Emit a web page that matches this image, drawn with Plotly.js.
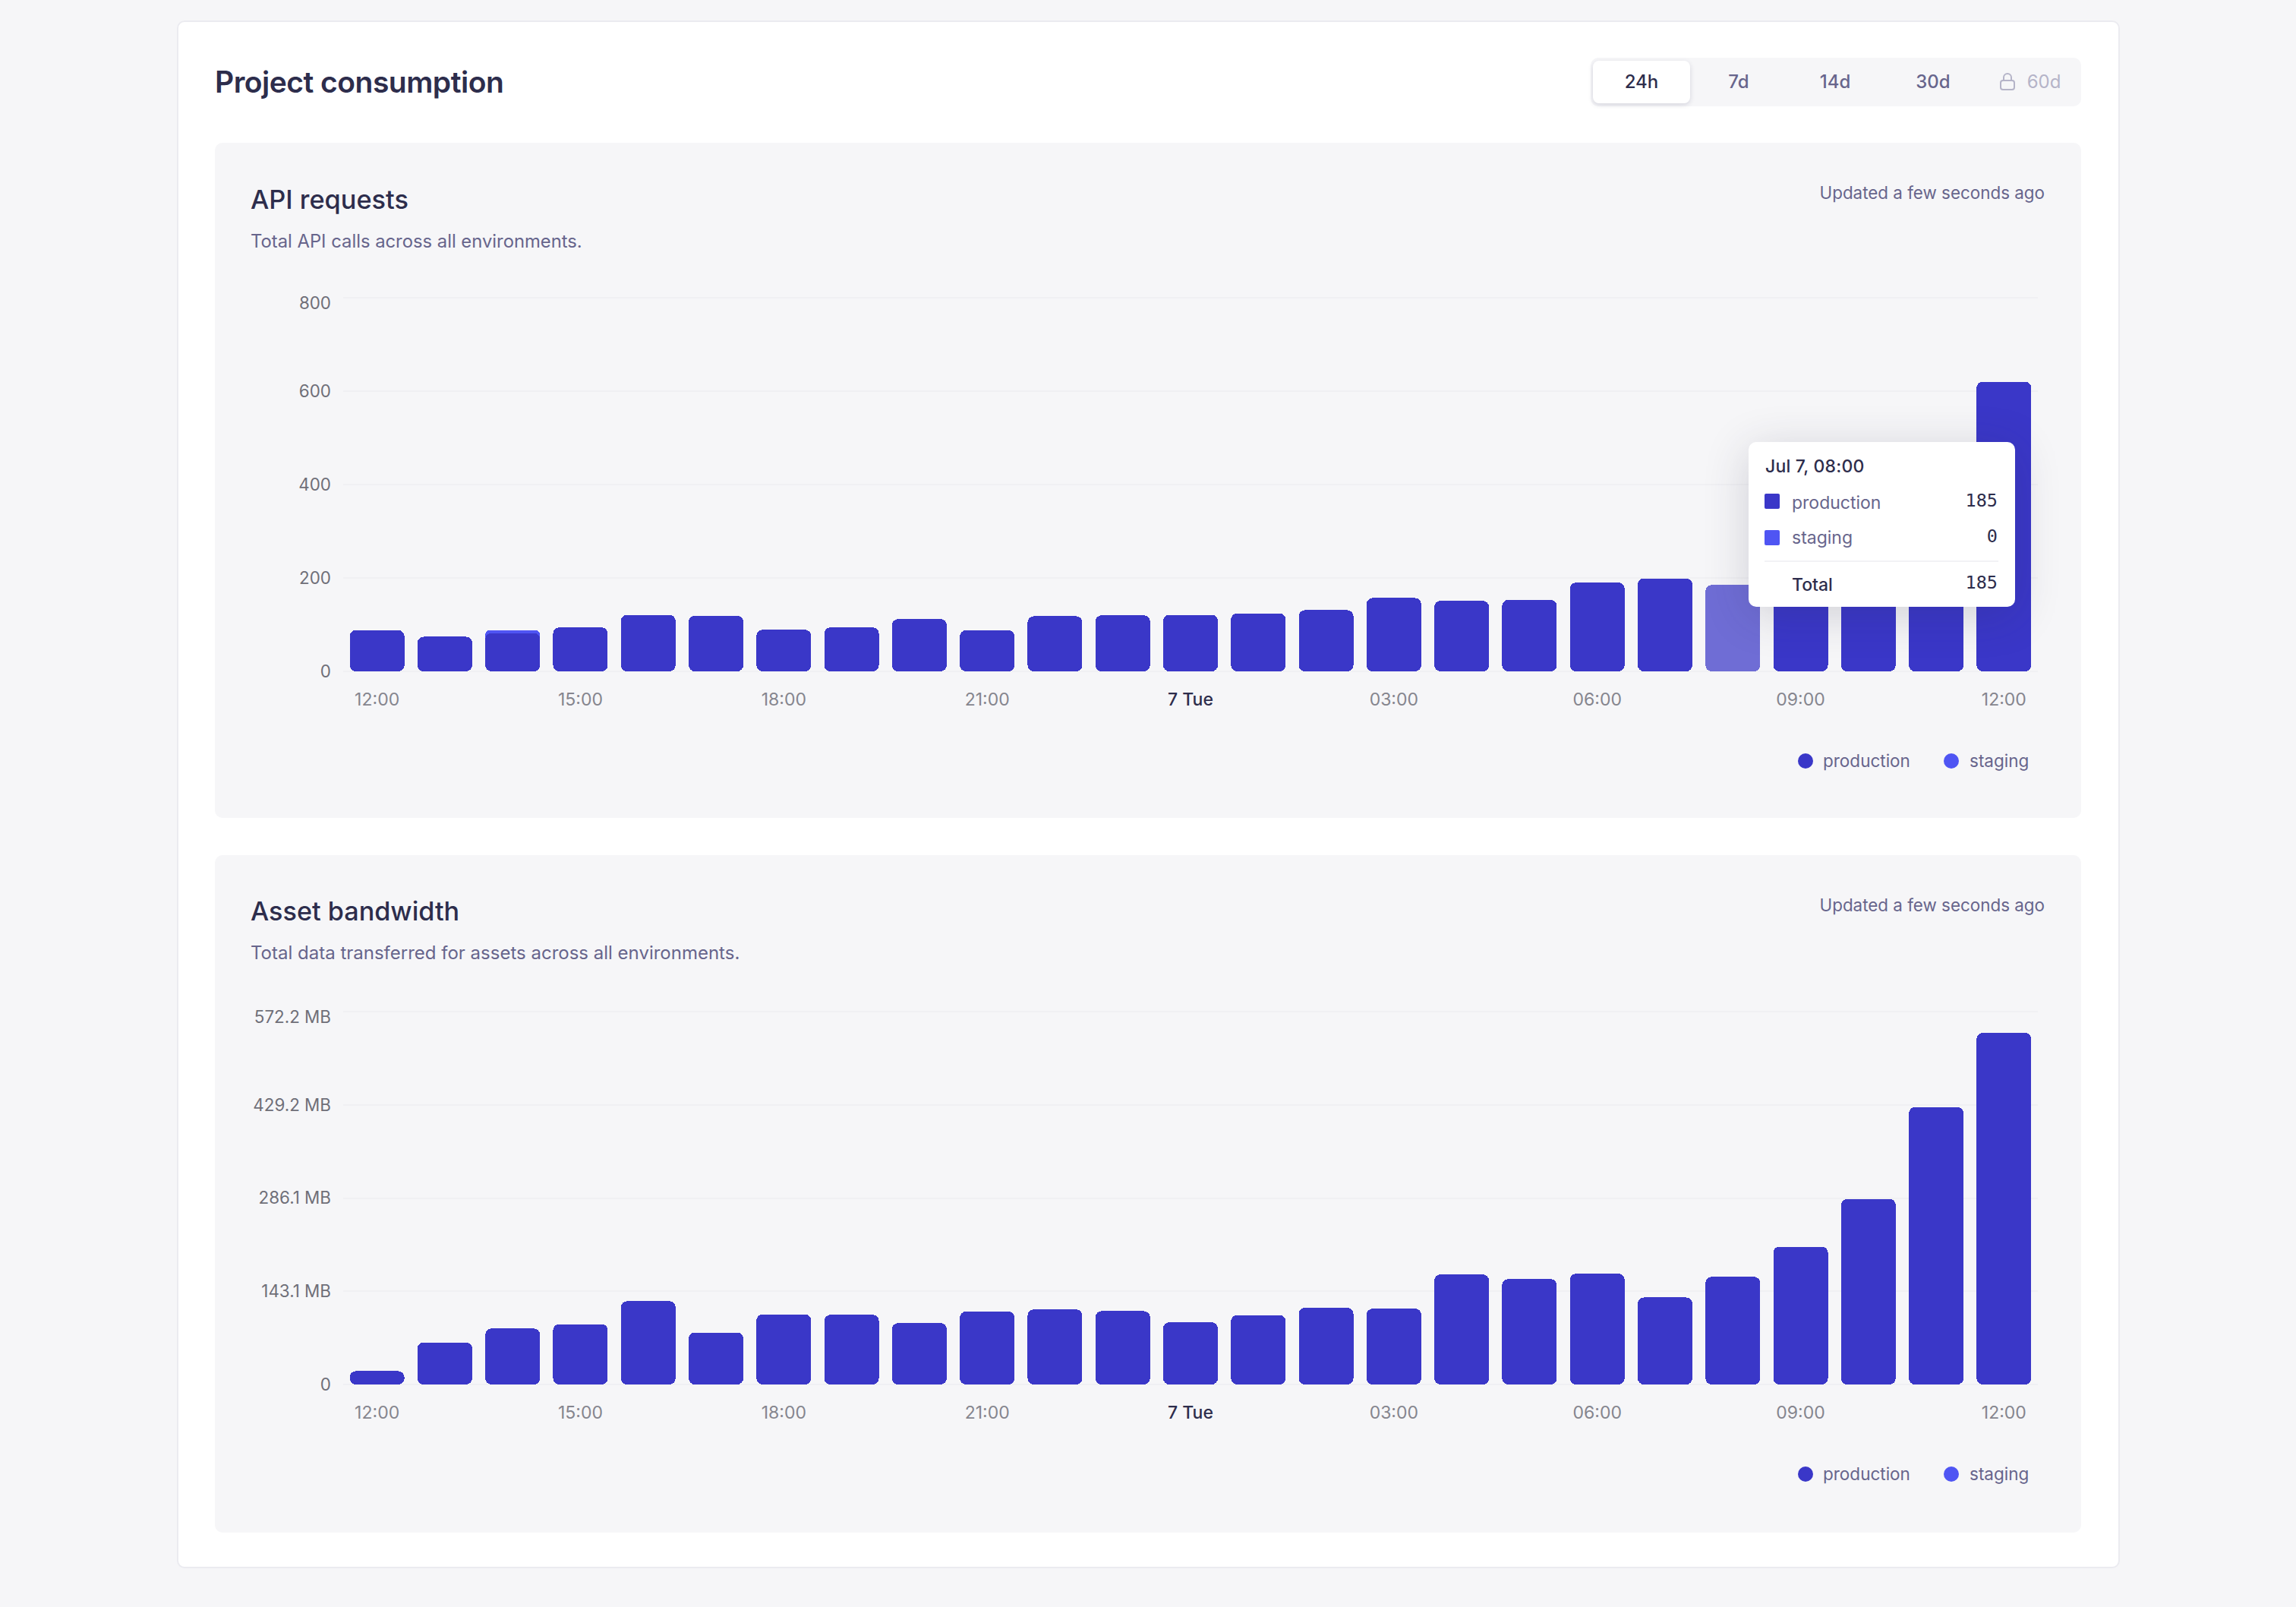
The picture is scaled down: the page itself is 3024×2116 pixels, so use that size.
<!DOCTYPE html>
<html>
<head>
<meta charset="utf-8">
<script src="https://cdn.plot.ly/plotly-3.0.1.min.js"></script>
<style>
html,body{margin:0;padding:0;width:3024px;height:2116px;background:#f6f6f8;overflow:hidden;font-family:Inter,"Noto Sans",sans-serif;-webkit-font-smoothing:antialiased}
.abs,.t{position:absolute;white-space:nowrap}
.t{line-height:1;transform:translateY(-50%)}
#card{left:233px;top:27px;width:2555px;height:2034px;background:#fff;border:2px solid #ebebf0;border-radius:10px}
.sec{position:absolute;left:283px;width:2458px;background:#f6f6f8;border-radius:10px}
#seg{left:2095px;top:76px;width:646px;height:64px;background:#f6f6f8;border-radius:10px}
#active{left:2098px;top:80px;width:128px;height:56px;background:#fff;border-radius:8px;box-shadow:0 2px 6px rgba(40,40,80,.16)}
.segt{font-size:24px;font-weight:500;color:#67658c;transform:translate(-50%,-50%)}
.h1{font-size:39px;font-weight:600;color:#2d2d4c;letter-spacing:-.5px}
.h2{font-weight:500;color:#2d2d4c}
.sub{font-size:23.8px;color:#67658c}
.upd{font-size:22.4px;color:#67658c;right:331px;left:auto}
.chart{position:absolute;left:283px;width:2458px;height:620px}
.leg{font-size:22.5px;color:#67658c}
.dot{position:absolute;width:20px;height:20px;border-radius:50%}
#tip{left:2303px;top:582px;width:351px;height:217px;background:#fff;border-radius:10px;box-shadow:0 10px 60px rgba(40,40,70,.19)}
.sw{position:absolute;width:20px;height:20px;border-radius:2px}
.tk{font-size:23px;color:#67658c}
.num{font-family:"DejaVu Sans Mono","Liberation Mono",monospace;font-size:23.5px;color:#2d2d4c;transform:translate(-100%,-50%)}
</style>
</head>
<body>
<div class="abs" id="card"></div>
<div class="t h1" style="left:283px;top:107px">Project consumption</div>
<div class="abs" id="seg"></div>
<div class="abs" id="active"></div>
<div class="t segt" style="left:2162px;top:108px;color:#2d2d4c">24h</div>
<div class="t segt" style="left:2290px;top:108px">7d</div>
<div class="t segt" style="left:2417px;top:108px">14d</div>
<div class="t segt" style="left:2546px;top:108px">30d</div>
<svg class="abs" style="left:2634px;top:96px" width="20" height="24" viewBox="0 0 20 24" fill="none" stroke="#b5b4c8" stroke-width="2"><rect x="1" y="10" width="18" height="12" rx="3"/><path d="M5 10V6a5 5 0 0 1 10 0v4"/></svg>
<div class="t segt" style="left:2692px;top:108px;color:#b5b4c8;font-weight:400">60d</div>

<div class="sec" style="top:188px;height:889px"></div>
<div class="sec" style="top:1126px;height:892px"></div>

<div class="t h2" style="left:330px;top:263px;font-size:34.3px">API requests</div>
<div class="t sub" style="left:330px;top:318px">Total API calls across all environments.</div>
<div class="t upd" style="top:254px">Updated a few seconds ago</div>
<div class="t h2" style="left:330px;top:1200px;font-size:34.2px">Asset bandwidth</div>
<div class="t sub" style="left:330px;top:1255px;font-size:24px">Total data transferred for assets across all environments.</div>
<div class="t upd" style="top:1192px">Updated a few seconds ago</div>

<div id="c1" class="chart" style="top:359px"></div>
<div id="c2" class="chart" style="top:1299px"></div>

<div class="dot" style="left:2368px;top:992px;background:#3a37c8"></div>
<div class="t leg" style="left:2401px;top:1002px">production</div>
<div class="dot" style="left:2560px;top:992px;background:#4f55f3"></div>
<div class="t leg" style="left:2594px;top:1002px">staging</div>
<div class="dot" style="left:2368px;top:1931px;background:#3a37c8"></div>
<div class="t leg" style="left:2401px;top:1941px">production</div>
<div class="dot" style="left:2560px;top:1931px;background:#4f55f3"></div>
<div class="t leg" style="left:2594px;top:1941px">staging</div>

<div class="abs" id="tip"></div>
<div class="t" style="left:2325px;top:614px;font-size:23px;font-weight:500;color:#2d2d4c;letter-spacing:.2px">Jul 7, 08:00</div>
<div class="sw" style="left:2324px;top:650px;background:#3a37c8"></div>
<div class="t tk" style="left:2360px;top:662px">production</div>
<div class="t num" style="left:2631px;top:660px">185</div>
<div class="sw" style="left:2324px;top:698px;background:#4f55f3"></div>
<div class="t tk" style="left:2360px;top:708px">staging</div>
<div class="t num" style="left:2631px;top:707px">0</div>
<div class="abs" style="left:2324px;top:738px;width:308px;height:2px;background:#f2f2f5"></div>
<div class="t" style="left:2360px;top:770px;font-size:23px;font-weight:500;color:#2d2d4c">Total</div>
<div class="t num" style="left:2631px;top:768px">185</div>

<script>
const hours = ["12:00","13:00","14:00","15:00","16:00","17:00","18:00","19:00","20:00","21:00","22:00","23:00","00:00","01:00","02:00","03:00","04:00","05:00","06:00","07:00","08:00","09:00","10:00","11:00","12:00 "];
const apiProduction = [88,74,82,94,121,119,89,94,112,88,118,120,121,124,131,157,151,153,190,199,185,240,330,450,620];
const apiStaging    = [0,0,6,0,0,0,0,0,0,0,0,0,0,0,0,0,0,0,0,0,0,0,0,0,0];
const bwProduction  = [20.5,64.6,85.9,92.6,127.8,79.7,107.8,106.9,94.3,112,115.2,112.5,95.4,106.3,117.6,116.4,168.8,161.8,170,133.5,165.2,211.5,284.6,425.5,539.6];
const bwStaging     = [0,0,0,0,0,0,0,0,0,0,0,0,0,0,0,0,0,0,0,0,0,0,0,0,0];
const tickPositions = ["12:00","15:00","18:00","21:00","00:00","03:00","06:00","09:00","12:00 "];
const tickLabels    = ["12:00","15:00","18:00","21:00",'<span style="color:#2d2d4c;font-weight:500">7 Tue</span>',"03:00","06:00","09:00","12:00"];
const apiTicks      = [0,200,400,600,800];
const apiTickText   = ["0","200","400","600","800"];
const bwTicks       = [0,143.05,286.1,429.2,572.2];
const bwTickText    = ["0","143.1 MB","286.1 MB","429.2 MB","572.2 MB"];
const hoverIndex = 20;

const RADIUS = 8;
function roundRect(x,y,w,h,r,square){
  r = Math.min(r,w/2,h/2);
  const arc = (ex,ey)=>`A${r},${r} 0 0 1 ${ex},${ey}`;
  const top = `M${x},${y+r}`+arc(x+r,y)+`H${x+w-r}`+arc(x+w,y+r);
  if(square) return top+`V${y+h}H${x}Z`;
  return top+`V${y+h-r}`+arc(x+w-r,y+h)+`H${x+r}`+arc(x,y+h-r)+'Z';
}
function draw(id,prod,stag,ticks,tickText,ymax,topPx,plotPx,hover){
  const opac = prod.map((_,i)=> i===hover ? 0.72 : 1);
  const traces = [
    {type:'bar',name:'production',x:hours,y:prod,marker:{color:'#3a37c8',opacity:opac,line:{width:0}}},
    {type:'bar',name:'staging',x:hours,y:stag,marker:{color:'#4f55f3',line:{width:0}}}
  ];
  // two spare pixels above the top tick, so that Plotly keeps its gridline
  const spare = 2;
  const layout = {
    barmode:'stack',bargap:0.1935,showlegend:false,
    width:2458,height:620,
    margin:{l:169,r:57,t:topPx-spare,b:620-topPx-plotPx,pad:0},
    paper_bgcolor:'rgba(0,0,0,0)',plot_bgcolor:'rgba(0,0,0,0)',
    font:{family:'Inter, "Noto Sans", sans-serif',size:23,color:'#6f6f78'},
    xaxis:{type:'category',categoryorder:'array',categoryarray:hours,range:[-0.5,24.5],
      tickmode:'array',tickvals:tickPositions,ticktext:tickLabels,tickangle:0,
      showgrid:false,zeroline:false,showline:false,ticks:'',
      ticklabelstandoff:21,tickfont:{size:23,color:'#85858e'}},
    yaxis:{range:[0,ymax*(plotPx+spare)/plotPx],tickmode:'array',tickvals:ticks,ticktext:tickText,
      showgrid:true,gridcolor:'#f0f0f3',gridwidth:2,zeroline:true,zerolinecolor:'#f0f0f3',zerolinewidth:2,
      showline:false,ticks:'',ticklabelstandoff:15,tickfont:{size:22.4,color:'#6f6f78'}}
  };
  return Plotly.newPlot(id,traces,layout,{staticPlot:true,displayModeBar:false}).then(gd=>{
    const groups = gd.querySelectorAll('.barlayer .trace');
    groups.forEach((g,ti)=>{
      g.querySelectorAll('.point path').forEach(p=>{
        const b = p.getBBox();
        if(b.width<=0||b.height<=0) return;
        p.setAttribute('d', ti===1 ? roundRect(b.x,b.y,b.width,b.height+RADIUS,RADIUS,true)
                                   : roundRect(b.x,b.y,b.width,b.height,RADIUS,false));
      });
    });
    if(groups.length===2) groups[0].parentNode.insertBefore(groups[1],groups[0]);
    // the top y label sits a little below its gridline, clamped to the chart's edge
    const yl = gd.querySelectorAll('.ytick text');
    const top = yl[yl.length-1];
    top.setAttribute('y', parseFloat(top.getAttribute('y')) + 7);
  });
}
draw('c1',apiProduction,apiStaging,apiTicks,apiTickText,800,32.7,492,hoverIndex);
draw('c2',bwProduction,bwStaging,bwTicks,bwTickText,572.2,33,491.5,-1);
</script>
</body>
</html>
